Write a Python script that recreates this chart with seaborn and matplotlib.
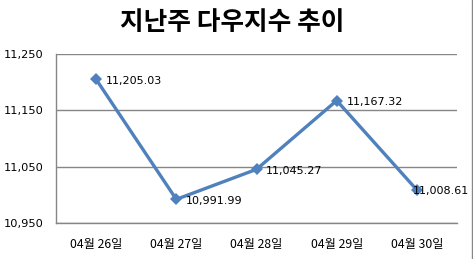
import matplotlib
matplotlib.use("Agg")
import matplotlib.pyplot as plt
import seaborn as sns
import pandas as pd
from matplotlib.ticker import FuncFormatter
from matplotlib.lines import Line2D

categories = ["04월 26일", "04월 27일", "04월 28일", "04월 29일", "04월 30일"]
values = [11205.03, 10991.99, 11045.27, 11167.32, 11008.61]
yticks = [10950, 11050, 11150, 11250]

sns.set_theme(style="white")
plt.rcParams['font.family'] = ['Noto Sans CJK KR', 'DejaVu Sans']

df = pd.DataFrame({"date": categories, "value": values})

fig = plt.figure(figsize=(4.73, 2.59), dpi=100)
ax = fig.add_axes([56/473, 1-223/259, (457-56)/473, (223-54)/259])

sns.lineplot(data=df, x="date", y="value", ax=ax, color="#4F81BD",
             linewidth=2.4, marker="D", markersize=6.5, markeredgewidth=0,
             sort=False)

offsets = [7, 7, 7, 7, -3]
for i, v in enumerate(values):
    ax.annotate(f"{v:,.2f}", (i, v), xytext=(offsets[i], -1), textcoords="offset points",
                fontsize=8, va="center", ha="left", color="black",
                family=['DejaVu Sans'], annotation_clip=False)

ax.set_xlim(-0.5, 4.5)
ax.set_ylim(10950, 11250)
ax.set_yticks(yticks)
ax.yaxis.set_major_formatter(FuncFormatter(lambda v, p: f"{int(v):,}"))
ax.grid(axis="y", color="#868686", linewidth=1)
ax.grid(axis="x", visible=False)
for s in ["top", "right"]:
    ax.spines[s].set_visible(False)
for s in ["left", "bottom"]:
    ax.spines[s].set_color("#868686")
    ax.spines[s].set_linewidth(1)
ax.tick_params(axis="y", labelsize=8.2, pad=9, length=0, colors="black")
ax.tick_params(axis="x", labelsize=8.8, pad=11, length=0, colors="black")
for lab in ax.get_yticklabels():
    lab.set_family(['DejaVu Sans'])
ax.set_xlabel("")
ax.set_ylabel("")

fig.text(232/473, 1-22/259, "지난주 다우지수 추이", ha="center", va="center",
         fontsize=18.5, fontweight="bold", color="black")

fig.lines.append(Line2D([471.5/473, 471.5/473], [0, 1], transform=fig.transFigure,
                        color="#868686", linewidth=1))

fig.savefig("out.png", dpi=100)
